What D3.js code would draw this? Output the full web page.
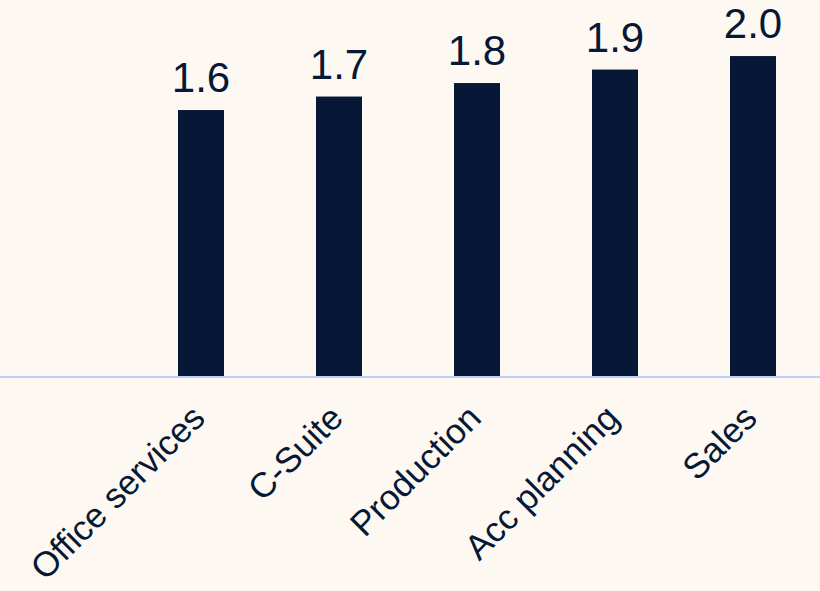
<!DOCTYPE html>
<html>
<head>
<meta charset="utf-8">
<script src="https://cdn.jsdelivr.net/npm/d3@7"></script>
<style>
  html, body { margin: 0; padding: 0; background: #fdf9f2; }
  svg { display: block; }
  text { font-family: "Liberation Sans", Arial, sans-serif; fill: #061836; }
</style>
</head>
<body>
<script>
// Departments and their average scores
const categories = ["Office services", "C-Suite", "Production", "Acc planning", "Sales"];
const values = [1.6, 1.7, 1.8, 1.9, 2.0];

const width = 820, height = 591;
const baseline = 376;

const svg = d3.select("body").append("svg")
  .attr("width", width)
  .attr("height", height);

svg.append("rect")
  .attr("width", width).attr("height", height)
  .attr("fill", "#fdf9f2");

const x = d3.scaleBand()
  .domain(categories)
  .range([132, 822])
  .paddingInner(2 / 3)
  .paddingOuter(1 / 3);

// value axis starts a little below zero
const y = d3.scaleLinear()
  .domain([-0.37, 2.4])
  .range([baseline, baseline - 135 * 2.77]);

const data = categories.map((c, i) => ({ cat: c, value: values[i] }));

// bars
svg.append("g").selectAll("rect")
  .data(data)
  .join("rect")
  .attr("x", d => x(d.cat))
  .attr("y", d => y(d.value))
  .attr("width", x.bandwidth())
  .attr("height", d => baseline - y(d.value))
  .attr("fill", "#061836");

// value labels
svg.append("g").selectAll("text")
  .data(data)
  .join("text")
  .attr("x", d => x(d.cat) + x.bandwidth() / 2)
  .attr("y", d => y(d.value) - 18)
  .attr("text-anchor", "middle")
  .style("font-size", "42px")
  .text(d => d3.format(".1f")(d.value));

// x axis
const xAxis = svg.append("g")
  .attr("transform", `translate(0,${baseline})`)
  .call(d3.axisBottom(x).tickSize(0).tickPadding(0));

xAxis.select(".domain")
  .attr("d", `M0,1H${width}`)
  .attr("stroke", "#bdd0f7")
  .attr("stroke-width", 2);

xAxis.selectAll(".tick text")
  .attr("text-anchor", "end")
  .attr("dy", null)
  .attr("y", null)
  .attr("transform", "translate(6,44) rotate(-45)")
  .style("font-size", "35px")
  .style("font-family", "'Liberation Sans', Arial, sans-serif")
  .attr("fill", "#061836");
</script>
</body>
</html>
